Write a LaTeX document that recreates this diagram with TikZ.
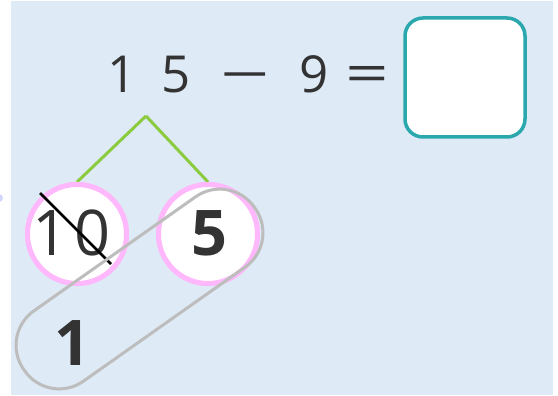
\documentclass[tikz,border=0pt]{standalone}
\usepackage{graphicx}
\usepackage{fontspec}
\setmainfont{Open Sans}
\definecolor{bgblue}{HTML}{DEEAF5}
\definecolor{tealbox}{HTML}{2AA8AE}
\definecolor{pinkring}{HTML}{FFB8FB}
\definecolor{leafgreen}{HTML}{8CCB3F}
\definecolor{capgray}{HTML}{BDBDBD}
\definecolor{ink}{HTML}{333333}
\begin{document}
\begin{tikzpicture}[x=1pt,y=-1pt,
  topdigit/.style={anchor=base,inner sep=0pt,text=ink,font=\fontsize{51}{51}\selectfont},
  bigdigit/.style={anchor=base,inner sep=0pt,text=ink,font=\fontsize{63}{63}\selectfont},
  ring/.style={circle,draw=pinkring,line width=5pt,fill=white,minimum size=99pt,inner sep=0pt},
  branch/.style={leafgreen,line width=3pt},
  capsule/.style={draw=capgray,line width=3pt,rounded corners=42pt,minimum width=282pt,minimum height=86pt,inner sep=0pt},
  answerbox/.style={draw=tealbox,line width=3.5pt,fill=white,rounded corners=18pt,minimum width=120pt,minimum height=119pt,inner sep=0pt}]
\useasboundingbox (0,0) rectangle (558,396);
\fill[bgblue] (11,1) rectangle (553,395);
\fill[bgblue!80!blue!60!white] (-1,198) circle (4pt);
% equation
\node[topdigit] (e1) at (122,93) {1};
\node[topdigit] (e5) at (176,93) {5};
\node[topdigit] (em) at (245,93) {\scalebox{1.7}[1]{−}};
\node[topdigit] (e9) at (314,93) {9};
\node[topdigit] (eq) at (367,93) {\scalebox{1.5}[1.05]{=}};
\node[answerbox] (ans) at (465,77.5) {};
% branches
\coordinate (apex) at (146,116);
\node[ring] (L) at (77,234) {};
\node[ring] (R) at (208,234) {};
\draw[branch] (apex) -- (L.north);
\draw[branch] (apex) -- (R.north);
\node[ring] at (77,234) {};
\node[ring] at (208,234) {};
\node[bigdigit] (ten) at (72,255) {1\hspace{6pt}0};
\node[bigdigit,font=\fontsize{63}{63}\selectfont\bfseries] (five) at (209,255) {5};
\coordinate (s1) at (40,193);
\coordinate (s2) at (111,264);
\draw[black,line width=2.5pt] (s1) -- (s2);
% capsule
\node[capsule,rotate=35.2] (cap) at (139.5,289) {};
\node[bigdigit,font=\fontsize{63}{63}\selectfont\bfseries] (one) at (72,365) {1};
\end{tikzpicture}
\end{document}
